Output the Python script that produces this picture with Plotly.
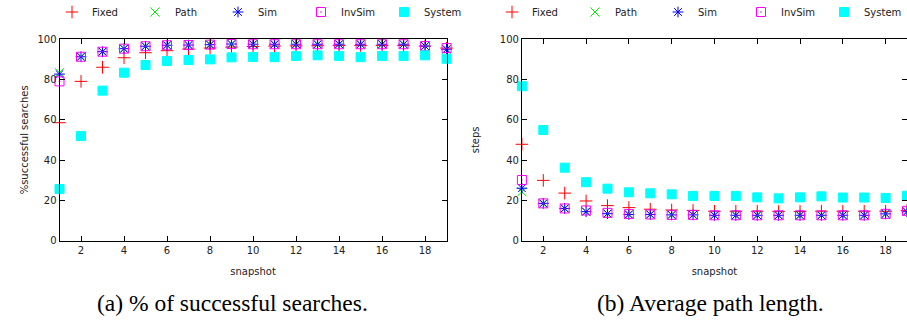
import plotly.graph_objects as go

snapshots = list(range(1, 20))

# (a) % of successful searches
succ_fixed = [58.5, 79, 86, 90.7, 93.2, 94.2, 95, 95.5, 96, 96.3, 96.5, 96.6, 96.7, 96.8, 96.8, 96.8, 96.8, 96.5, 95.5]
succ_path = [83.3, 91.2, 93.7, 95.2, 96.4, 96.9, 97.0, 97.2, 97.5, 97.4, 97.4, 97.4, 97.4, 97.4, 97.4, 97.4, 97.4, 96.5, 94.9]
succ_sim = [82.6, 91.2, 93.7, 95.2, 96.4, 96.9, 97.0, 97.2, 97.5, 97.4, 97.4, 97.4, 97.4, 97.4, 97.4, 97.4, 97.4, 96.5, 94.9]
succ_invsim = [79, 91.2, 93.7, 95.2, 96.4, 96.9, 97.0, 97.2, 97.5, 97.4, 97.4, 97.4, 97.4, 97.4, 97.4, 97.4, 97.4, 96.5, 95.5]
succ_system = [25.6, 51.9, 74.4, 83.3, 87.1, 89.1, 89.6, 89.9, 90.9, 91.1, 91.0, 91.6, 91.9, 91.6, 91.0, 91.6, 91.6, 91.9, 90.2]

# (b) Average path length
steps_fixed = [47.8, 29.9, 23.6, 19.7, 17.4, 16.4, 15.6, 15.2, 15.0, 14.6, 14.6, 14.6, 14.5, 14.5, 14.6, 14.6, 14.6, 14.6, 15.0]
steps_path = [24.3, 18.3, 16.0, 14.4, 13.4, 13.0, 13.0, 12.8, 12.8, 12.6, 12.6, 12.6, 12.6, 12.6, 12.6, 12.6, 12.6, 13.3, 14.4]
steps_sim = [26.0, 18.5, 16.0, 14.4, 13.4, 13.0, 13.0, 12.8, 12.8, 12.6, 12.6, 12.6, 12.6, 12.6, 12.6, 12.6, 12.6, 13.3, 14.4]
steps_invsim = [30.1, 18.5, 16.0, 15.0, 13.8, 13.2, 13.0, 12.8, 12.8, 12.6, 12.6, 12.6, 12.6, 12.6, 12.6, 12.6, 12.6, 13.3, 14.8]
steps_system = [76.6, 54.9, 36.2, 29.0, 25.8, 24.0, 23.5, 23.0, 22.2, 22.2, 22.2, 21.5, 21.0, 21.5, 22.0, 21.4, 21.4, 21.2, 22.3]

x_ticks = [2, 4, 6, 8, 10, 12, 14, 16, 18]
y_ticks = [0, 20, 40, 60, 80, 100]

series_names = ["Fixed", "Path", "Sim", "InvSim", "System"]
symbols = ["cross-thin-open", "x-thin-open", "asterisk-open", "square-open-dot", "square"]
colors = ["#ff0000", "#00ee00", "#0000ff", "#ff00ff", "#00ffff"]
sizes = [9, 9, 9, 9, 9]

left_data = [succ_fixed, succ_path, succ_sim, succ_invsim, succ_system]
right_data = [steps_fixed, steps_path, steps_sim, steps_invsim, steps_system]

fig = go.Figure()
FONT = "DejaVu Sans"

for i, name in enumerate(series_names):
    mk = dict(symbol=symbols[i], color=colors[i], size=sizes[i], line=dict(color=colors[i], width=1))
    fig.add_trace(go.Scatter(x=snapshots, y=left_data[i], mode="markers", name=name,
                             marker=mk, xaxis="x", yaxis="y", cliponaxis=False,
                             legend="legend"))
    fig.add_trace(go.Scatter(x=snapshots, y=right_data[i], mode="markers", name=name,
                             marker=mk, xaxis="x2", yaxis="y2", cliponaxis=False,
                             legend="legend2"))

axis_common = dict(
    showline=True, linecolor="black", linewidth=1, mirror="ticks",
    ticks="inside", ticklen=5, tickcolor="black", showgrid=False, zeroline=False,
    tickfont=dict(family=FONT, size=10, color="#222"),
)

ydom = [1 - 240.7 / 320, 1 - 39 / 320]
legend_common = dict(orientation="h", y=1 - 12 / 320, xanchor="left", yanchor="middle",
                     entrywidth=38, entrywidthmode="pixels", font=dict(family=FONT, size=10, color="#222"),
                     bgcolor="rgba(0,0,0,0)", itemclick=False, itemdoubleclick=False,
                     tracegroupgap=0)
fig.update_layout(
    width=907, height=320,
    margin=dict(l=0, r=0, t=0, b=0, autoexpand=False),
    paper_bgcolor="white", plot_bgcolor="white",
    font=dict(family=FONT, size=10, color="#222"),
    xaxis=dict(domain=[59.5 / 907, 446.6 / 907], range=[1, 19], tickvals=x_ticks,
               title=dict(text="snapshot", font=dict(size=10), standoff=13), anchor="y", **axis_common),
    yaxis=dict(domain=ydom, range=[0, 100], tickvals=y_ticks,
               title=dict(text="%successful searches", font=dict(size=10), standoff=6), anchor="x", **axis_common),
    xaxis2=dict(domain=[521.9 / 907, 1.0], range=[1, 19], tickvals=x_ticks,
                title=dict(text="snapshot", font=dict(size=10), standoff=13), anchor="y2", **axis_common),
    yaxis2=dict(domain=ydom, range=[0, 100], tickvals=y_ticks,
                title=dict(text="steps", font=dict(size=10), standoff=18), anchor="x2", **axis_common),
    legend=dict(x=52 / 907, **legend_common),
    legend2=dict(x=492 / 907, **legend_common),
    annotations=[
        dict(text="(a) % of successful searches.", x=232 / 907, y=1 - 303 / 320, xref="paper", yref="paper",
             xanchor="center", yanchor="middle",
             showarrow=False, font=dict(family="Liberation Serif", size=23.5, color="black")),
        dict(text="(b) Average path length.", x=710 / 907, y=1 - 303 / 320, xref="paper", yref="paper",
             xanchor="center", yanchor="middle",
             showarrow=False, font=dict(family="Liberation Serif", size=23.5, color="black")),
    ],
)

fig.write_html("out.html", config={"displayModeBar": False},
               post_script="document.body.style.margin='0';document.body.style.overflow='hidden';")
